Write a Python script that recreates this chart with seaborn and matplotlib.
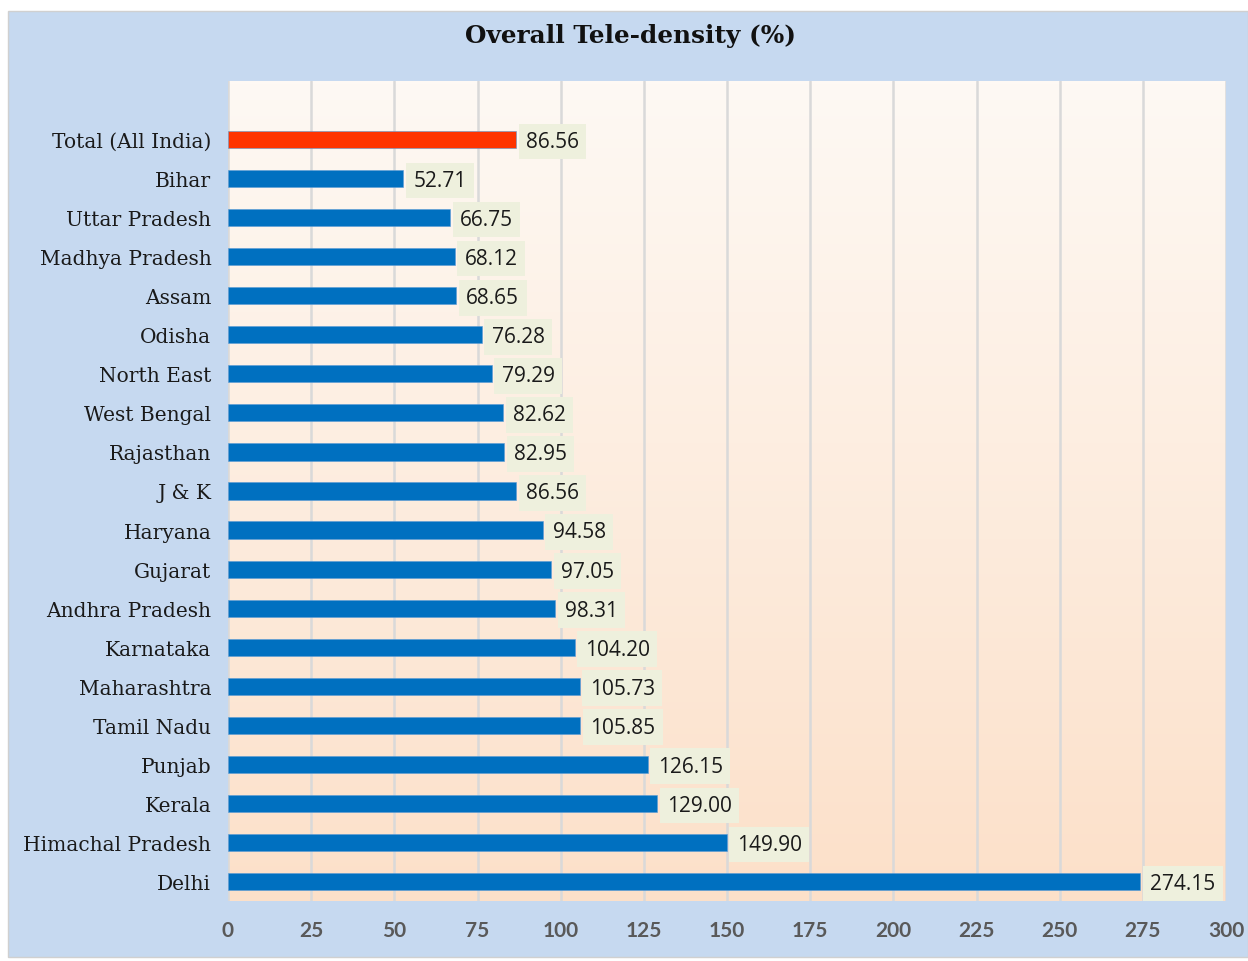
import numpy as np
import pandas as pd
import matplotlib.pyplot as plt
import seaborn as sns
from matplotlib.patches import Rectangle

# --- data ---
states = ['Total (All India)', 'Bihar', 'Uttar Pradesh', 'Madhya Pradesh', 'Assam',
          'Odisha', 'North East', 'West Bengal', 'Rajasthan', 'J & K', 'Haryana',
          'Gujarat', 'Andhra Pradesh', 'Karnataka', 'Maharashtra', 'Tamil Nadu',
          'Punjab', 'Kerala', 'Himachal Pradesh', 'Delhi']
density = [86.56, 52.71, 66.75, 68.12, 68.65, 76.28, 79.29, 82.62, 82.95, 86.56,
           94.58, 97.05, 98.31, 104.20, 105.73, 105.85, 126.15, 129.00, 149.90, 274.15]
x_ticks = [0, 25, 50, 75, 100, 125, 150, 175, 200, 225, 250, 275, 300]

df = pd.DataFrame({'State': states, 'Density': density})
colors = {s: ('#ff3300' if s.startswith('Total') else '#0070c0') for s in states}

sns.set_style("white")
W, H = 1248, 962
fig = plt.figure(figsize=(W / 100, H / 100), dpi=100)
fig.patch.set_facecolor('white')

# outer blue chart area
fig.patches.append(Rectangle((8 / W, 4 / H), 1 - 8 / W, (H - 16) / H,
                             transform=fig.transFigure, facecolor='#c6d9f0',
                             edgecolor='#d0d0d0', linewidth=1, zorder=-10))

ax = fig.add_axes([228 / W, 1 - 902 / H, (1226 - 228) / W, (902 - 82) / H])
ax.set_zorder(1)

# gradient background of the plot area
grad = np.linspace(0, 1, 256).reshape(-1, 1)
top_c = np.array([254, 249, 244]) / 255
bot_c = np.array([252, 224, 201]) / 255
img = top_c + (bot_c - top_c) * grad[..., None]
ax.imshow(img, extent=[0, 300, 19.5, -1.5], aspect='auto', zorder=0)

sns.barplot(data=df, x='Density', y='State', hue='State', palette=colors,
            orient='h', width=0.44, legend=False, ax=ax, zorder=3, saturation=1,
            edgecolor='#5b9bd5', linewidth=0.4)

ax.set_xlim(0, 300)
ax.set_ylim(19.5, -1.5)
ax.set_xticks(x_ticks)
ax.set_xticklabels([str(t) for t in x_ticks], fontsize=15, fontweight='bold',
                   color='#595959', family='Lato')
ax.tick_params(axis='x', length=0, pad=14)
ax.tick_params(axis='y', length=0, pad=12)
for lab in ax.get_yticklabels():
    lab.set_family('DejaVu Serif')
    lab.set_fontsize(14.5)
    lab.set_color('#1a1a1a')
ax.set_xlabel('')
ax.set_ylabel('')
ax.grid(axis='x', color='#d9d9d9', linewidth=1.8, zorder=1)
ax.set_axisbelow(True)
for sp in ax.spines.values():
    sp.set_visible(False)

for i, v in enumerate(density):
    ax.text(v + 3, i + 0.05, f'{v:.2f}', va='center', ha='left', fontsize=15,
            family='Open Sans', color='#1a1a1a', zorder=4,
            bbox=dict(boxstyle='square,pad=0.35', facecolor='#eef0dd', edgecolor='none'))

fig.text(0.505, 1 - 36 / H, 'Overall Tele-density (%)', ha='center', va='center',
         fontsize=17.8, fontweight='bold', family='DejaVu Serif', color='#111111')

fig.savefig('out.png', dpi=100, facecolor=fig.get_facecolor())
